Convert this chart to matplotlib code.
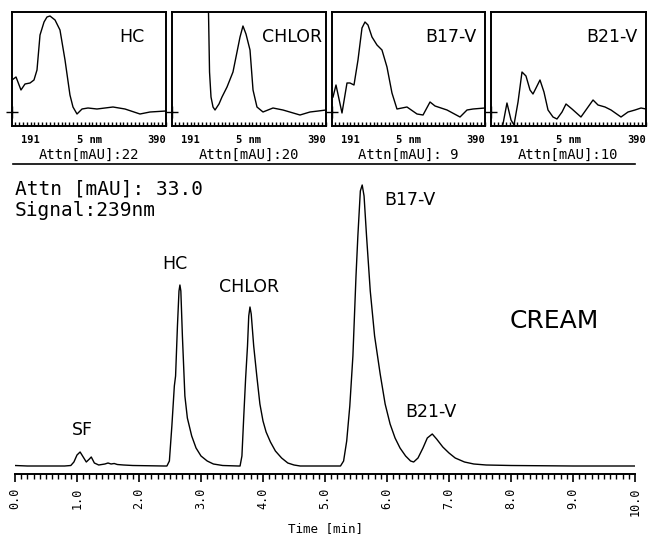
import matplotlib.pyplot as plt

# main chromatogram (time in min, signal in arbitrary units)
chrom_time = [0.0, 0.2, 0.8, 0.9, 0.95, 1.0, 1.05, 1.1, 1.15, 1.2, 1.23, 1.28, 1.35, 1.45,
              1.5, 1.55, 1.6, 1.65, 1.75, 1.9, 2.4,
              2.45, 2.49, 2.53, 2.57, 2.59, 2.62, 2.645, 2.66, 2.675, 2.70, 2.74, 2.78,
              2.85, 2.92, 3.0, 3.1, 3.2, 3.35, 3.6,
              3.63, 3.66, 3.69, 3.72, 3.75, 3.77, 3.79, 3.81, 3.85, 3.9, 3.95, 4.0, 4.05,
              4.12, 4.2, 4.3, 4.4, 4.5, 4.6, 5.2,
              5.25, 5.3, 5.35, 5.4, 5.45, 5.5, 5.53, 5.57, 5.6, 5.63, 5.67, 5.73, 5.8,
              5.89, 5.97, 6.05, 6.13, 6.21, 6.3, 6.38, 6.43,
              6.5, 6.58, 6.65, 6.73, 6.8, 6.9, 7.0, 7.1, 7.25, 7.4, 7.6, 8.0, 9.0, 10.0]
chrom_signal = [0.5, 0, 0, 0.5, 4, 11, 14, 9, 4, 7, 9, 3, 1, 2,
                3, 2, 2.5, 1.5, 1, 0.5, 0,
                0, 5, 40, 80, 90, 140, 175, 181, 175, 130, 70, 48,
                30, 18, 10, 5, 2, 0.5, 0,
                0, 10, 50, 88, 120, 150, 159, 152, 120, 90, 62, 45, 34,
                24, 15, 8, 3, 1, 0, 0,
                0, 5, 25, 60, 110, 190, 230, 275, 281, 270, 230, 175, 130,
                92, 62, 42, 28, 18, 10, 5, 4,
                8, 18, 28, 32, 27, 19, 13, 8, 4, 2, 1, 0.5, 0, 0]

peak_names = ['SF', 'HC', 'CHLOR', 'B17-V', 'B21-V']
peak_label_t = [1.08, 2.58, 3.78, 6.37, 6.71]
peak_label_h = [36, 202, 179, 266, 54]

# UV spectra, 191-390 nm
spec_names = ['HC', 'CHLOR', 'B17-V', 'B21-V']
spec_attn = ['Attn[mAU]:22', 'Attn[mAU]:20', 'Attn[mAU]: 9', 'Attn[mAU]:10']

hc_nm = [191.0, 196.2, 202.6, 207.8, 214.3, 219.4, 223.3, 227.2, 232.4, 236.2, 240.1,
         246.6, 253.0, 259.5, 265.9, 269.8, 275.0, 281.5, 289.2, 300.8, 321.5, 337.0,
         356.4, 369.3, 390.0]
hc_abs = [32, 35, 22, 28, 29, 32, 42, 77, 90, 95, 96,
          92, 82, 52, 17, 5, -2, 3, 4, 3, 5, 3,
          -2, 0, 1]

chlor_nm = [237.5, 239.5, 241.4, 244.0, 246.6, 251.7, 255.6, 262.1, 269.8, 275.0, 278.9,
            282.7, 286.6, 291.8, 295.7, 300.8, 308.6, 315.0, 321.5, 334.4, 356.4, 369.3,
            380.0, 390.0]
chlor_abs = [130, 40, 15, 5, 2, 8, 15, 25, 40, 60, 75,
             86, 78, 62, 22, 5, 0, 2, 4, 2, -3, 0,
             1, 2]

b17_nm = [192.3, 196.2, 204.0, 210.5, 214.4, 219.6, 224.8, 230.0, 233.9, 237.8, 243.0,
          249.5, 256.0, 262.5, 269.0, 275.5, 288.5, 301.6, 309.4, 318.5, 325.0, 340.6,
          357.5, 366.6, 374.4, 390.0]
b17_abs = [15, 27, -1, 29, 29, 27, 52, 84, 90, 87, 75,
           67, 62, 45, 19, 3, 5, -2, -3, 10, 6, 2,
           -5, 2, 3, 4]

b21_nm = [203.8, 206.4, 211.5, 216.7, 220.5, 225.7, 230.8, 235.9, 241.1, 244.9, 248.8,
          253.9, 259.0, 264.2, 270.6, 275.7, 282.2, 287.3, 295.0, 306.5, 322.0, 328.4,
          337.4, 345.1, 357.9, 366.9, 375.9, 383.6, 390.0]
b21_abs = [-16, -12, 9, -8, -13, 10, 40, 36, 22, 18, 24,
           32, 20, 2, -5, -7, 0, 8, 3, -5, 12, 7,
           5, 2, -5, 0, 2, 4, 3]

spectra = [(hc_nm, hc_abs), (chlor_nm, chlor_abs), (b17_nm, b17_abs), (b21_nm, b21_abs)]

W, H = 648, 540


def fx(px):
    return px / W


def fy(py):
    return 1 - py / H


fig = plt.figure(figsize=(6.48, 5.4), dpi=100)
mono = 'DejaVu Sans Mono'

# spectra panels
panel_px = [(12, 154), (172, 154), (332, 153), (491, 155)]
for k, (left, width) in enumerate(panel_px):
    ax = fig.add_axes([fx(left), fy(126), fx(width), fy(12) - fy(126)])
    nm, val = spectra[k]
    ax.plot(nm, val, color='black', lw=1.0)
    ax.set_xlim(191, 390)
    ax.set_ylim(-14, 100)
    for s in ax.spines.values():
        s.set_linewidth(1.4)
    ax.set_yticks([])
    ax.set_xticks(list(range(195, 391, 5)))
    ax.tick_params(axis='x', direction='in', length=3, width=1, labelbottom=False,
                   bottom=True, top=False)
    ax.plot([191], [0], marker='+', color='black', ms=8, mew=1, clip_on=False)
    ax.text(0.78, 0.78, spec_names[k], transform=ax.transAxes, ha='center',
            va='center', fontsize=12.5)
    ax.text(0.12, -0.08, '191', transform=ax.transAxes, ha='center', va='top',
            fontsize=7.5, family=mono, weight='bold')
    ax.text(0.5, -0.08, '5 nm', transform=ax.transAxes, ha='center', va='top',
            fontsize=7.5, family=mono, weight='bold')
    ax.text(1.0, -0.08, '390', transform=ax.transAxes, ha='right', va='top',
            fontsize=7.5, family=mono, weight='bold')
    fig.text(fx(left + width / 2), fy(155), spec_attn[k], ha='center', va='center',
             fontsize=10, family=mono)

# separator line
fig.add_artist(plt.Line2D([fx(13), fx(635)], [fy(164), fy(164)], color='black', lw=1.2))

# main chromatogram
ax = fig.add_axes([fx(15), fy(474), fx(620), fy(170) - fy(474)])
ax.plot(chrom_time, chrom_signal, color='black', lw=1.0)
ax.set_xlim(0, 10)
ax.set_ylim(-8, 296)
for side in ['top', 'left', 'right']:
    ax.spines[side].set_visible(False)
ax.spines['bottom'].set_linewidth(1.4)
ax.set_yticks([])
ax.set_xticks([i for i in range(11)])
ax.set_xticklabels([f'{i:.1f}' for i in range(11)], rotation=90, family=mono,
                   fontsize=8.5)
ax.set_xticks([i / 10 for i in range(101)], minor=True)
ax.tick_params(axis='x', which='major', direction='out', length=6, width=1.2, pad=4)
ax.tick_params(axis='x', which='minor', direction='out', length=3.5, width=1)
ax.set_xlabel('Time [min]', family=mono, fontsize=9, labelpad=4)

for name, t, h in zip(peak_names, peak_label_t, peak_label_h):
    ax.text(t, h, name, ha='center', va='center', fontsize=12.5)

fig.text(fx(15), fy(189), 'Attn [mAU]: 33.0', ha='left', va='center',
         fontsize=14, family=mono)
fig.text(fx(15), fy(210), 'Signal:239nm', ha='left', va='center',
         fontsize=14, family=mono)
fig.text(fx(554), fy(321), 'CREAM', ha='center', va='center', fontsize=18)

fig.savefig('out.png', dpi=100)
